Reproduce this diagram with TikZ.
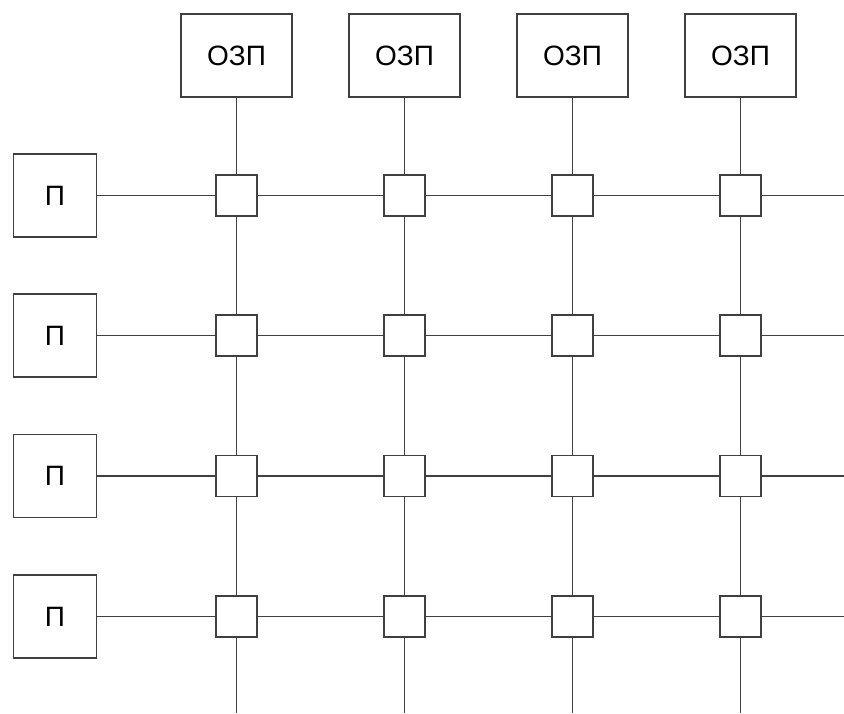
\documentclass[tikz,border=0pt]{standalone}
\usepackage{fontspec}
\setmainfont{Liberation Sans}
\begin{document}
\begin{tikzpicture}[x=1pt,y=-1pt,
  wire/.style={draw=linegray,line width=1.6pt},
  labelfont/.style={font=\fontsize{28}{28}\selectfont},
  membox/.style={wire,fill=white,labelfont,minimum width=111pt,minimum height=83pt,inner sep=0pt},
  procbox/.style={wire,fill=white,labelfont,minimum width=83pt,minimum height=83pt,inner sep=0pt},
  switchbox/.style={wire,fill=white,minimum width=41pt,minimum height=41pt,inner sep=0pt}]
\definecolor{linegray}{RGB}{64,64,64}
\useasboundingbox (0,0) rectangle (844,713);
\fill[white] (0,0) rectangle (844,713);

% memory modules along the top
\foreach \c/\x in {1/236.5,2/404.5,3/572.5,4/740.5}
  \node[membox] (o\c) at (\x,55.5) {ОЗП};

% processors down the left side
\foreach \r/\y in {1/195.5,2/335.5,3/476,4/616.5}
  \node[procbox] (p\r) at (55,\y) {П};

% crossbar switch points
\foreach \r/\y in {1/195.5,2/335.5,3/476,4/616.5}
  \foreach \c/\x in {1/236.5,2/404.5,3/572.5,4/740.5}
    \node[switchbox] (j\r\c) at (\x,\y) {};

% open ends of the bus lines
\foreach \c/\x in {1/236.5,2/404.5,3/572.5,4/740.5}
  \coordinate (b\c) at (\x,713);
\foreach \r/\y in {1/195.5,2/335.5,3/476,4/616.5}
  \coordinate (e\r) at (844,\y);

% column buses
\foreach \c in {1,2,3,4} {
  \draw[wire] (o\c) -- (j1\c);
  \draw[wire] (j1\c) -- (j2\c);
  \draw[wire] (j2\c) -- (j3\c);
  \draw[wire] (j3\c) -- (j4\c);
  \draw[wire] (j4\c) -- (b\c);
}
% row buses
\foreach \r in {1,2,3,4} {
  \draw[wire] (p\r) -- (j\r1);
  \draw[wire] (j\r1) -- (j\r2);
  \draw[wire] (j\r2) -- (j\r3);
  \draw[wire] (j\r3) -- (j\r4);
  \draw[wire] (j\r4) -- (e\r);
}
\end{tikzpicture}
\end{document}
